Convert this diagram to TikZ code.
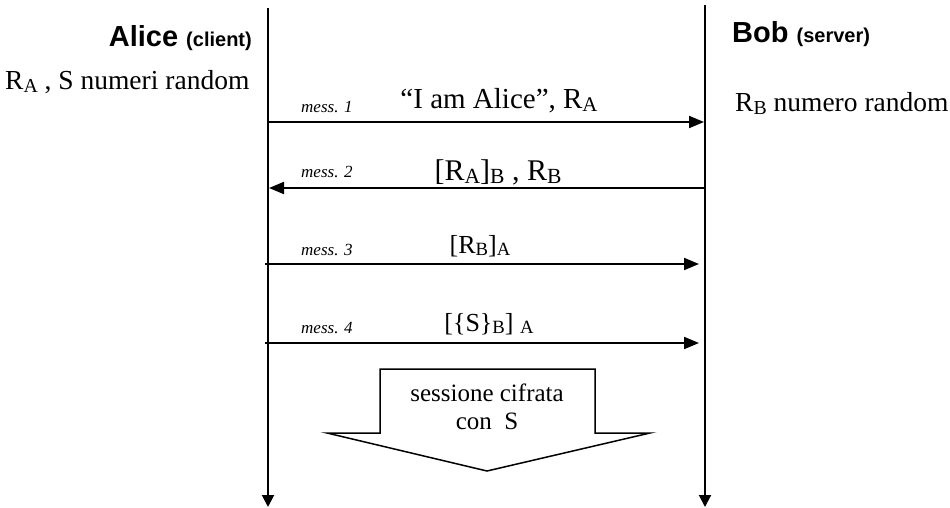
\documentclass[tikz,border=0pt]{standalone}
\usepackage{fontspec}
\usepackage{graphicx}
\setmainfont{Liberation Serif}
\newfontfamily\arialfont{Liberation Sans}
\usetikzlibrary{arrows.meta}
% subscript in the style of slide software: smaller and slightly lowered
\newcommand\lowsub[1]{\raisebox{-0.10em}{\scalebox{0.72}{#1}}}
\tikzset{
  lifeline/.style={line width=2pt,-{Triangle[length=12pt,width=12pt]}},
  msg/.style={line width=2pt,-{Triangle[length=15pt,width=12pt]}},
  who/.style={anchor=base,inner sep=0pt,font=\arialfont\bfseries\fontsize{29}{33}\selectfont},
  note/.style={anchor=base west,inner sep=0pt,font=\fontsize{27.5}{31}\selectfont},
  msgtext/.style={anchor=base,inner sep=0pt,font=\fontsize{29}{33}\selectfont},
  messlabel/.style={anchor=base west,inner sep=0pt,font=\itshape\fontsize{17}{20}\selectfont},
  blockarrow/.style={line width=1.5pt,fill=white,line join=miter},
  sesstext/.style={anchor=base,inner sep=0pt,font=\fontsize{25}{28}\selectfont}
}
\begin{document}
\begin{tikzpicture}[x=1pt,y=-1pt]
\useasboundingbox (0,0) rectangle (950,508);

% participants
\node[who,anchor=base east] (alice) at (252,47) {Alice {\fontsize{20}{24}\selectfont(client)}};
\node[who,anchor=base west] (bob) at (732,43) {Bob {\fontsize{20}{24}\selectfont(server)}};

% side notes
\node[note] (anote) at (5,90) {R\lowsub{A} , S numeri random};
\node[note] (bnote) at (735,112) {R\lowsub{B} numero random};

% lifelines
\coordinate (atop) at (268,8);
\coordinate (abot) at (268,507);
\coordinate (btop) at (705,5);
\coordinate (bbot) at (705,507);
\draw[lifeline] (atop) -- (abot);
\draw[lifeline] (btop) -- (bbot);

% message end points
\coordinate (m1s) at (268,122); \coordinate (m1e) at (704,122);
\coordinate (m2s) at (705,188); \coordinate (m2e) at (269,188);
\coordinate (m3s) at (265,264); \coordinate (m3e) at (699,264);
\coordinate (m4s) at (265,343); \coordinate (m4e) at (699,343);

\draw[msg] (m1s) -- (m1e);
\draw[msg] (m2s) -- (m2e);
\draw[msg] (m3s) -- (m3e);
\draw[msg] (m4s) -- (m4e);

% message numbers
\node[messlabel] (l1) at (301,113) {mess. 1};
\node[messlabel] (l2) at (301,177) {mess. 2};
\node[messlabel] (l3) at (301,255) {mess. 3};
\node[messlabel] (l4) at (301,333) {mess. 4};

% message contents
\node[msgtext] (t1) at (499,109) {“I am Alice”, R\lowsub{A}};
\node[msgtext,font=\fontsize{30}{34}\selectfont] (t2) at (498,180) {[R\lowsub{A}]\lowsub{B} , R\lowsub{B}};
\node[msgtext,font=\fontsize{26}{30}\selectfont] (t3) at (480,253) {[R\lowsub{B}]\lowsub{A}};
\node[msgtext,font=\fontsize{26}{30}\selectfont] (t4) at (489,331) {[\{S\}\lowsub{B}] \lowsub{A}};

% encrypted session block arrow
\draw[blockarrow] (380,369) -- (595,369) -- (595,433) -- (650,433) -- (487,471)
  -- (327,433) -- (380,433) -- cycle;
\node[sesstext] (sess1) at (487,401) {sessione cifrata};
\node[sesstext] (sess2) at (487,429) {con~~S};
\end{tikzpicture}
\end{document}
